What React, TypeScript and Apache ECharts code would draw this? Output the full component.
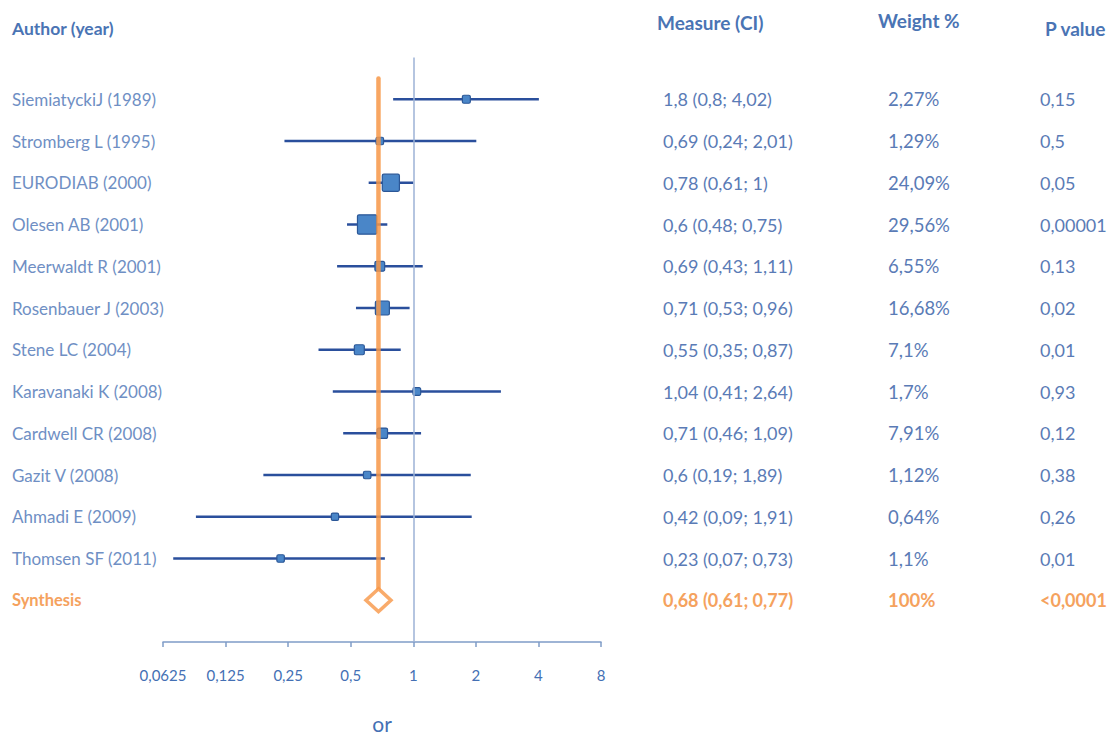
import React, { useEffect, useRef } from "react";
import * as echarts from "echarts";

const authors = [
  "SiemiatyckiJ (1989)",
  "Stromberg L (1995)",
  "EURODIAB (2000)",
  "Olesen AB (2001)",
  "Meerwaldt R (2001)",
  "Rosenbauer J (2003)",
  "Stene LC (2004)",
  "Karavanaki K (2008)",
  "Cardwell CR (2008)",
  "Gazit V (2008)",
  "Ahmadi E (2009)",
  "Thomsen SF (2011)",
];
const estimates = [1.8, 0.69, 0.78, 0.6, 0.69, 0.71, 0.55, 1.04, 0.71, 0.6, 0.42, 0.23];
const lows = [0.8, 0.24, 0.61, 0.48, 0.43, 0.53, 0.35, 0.41, 0.46, 0.19, 0.09, 0.07];
const highs = [4.02, 2.01, 1, 0.75, 1.11, 0.96, 0.87, 2.64, 1.09, 1.89, 1.91, 0.73];
const weights = [2.27, 1.29, 24.09, 29.56, 6.55, 16.68, 7.1, 1.7, 7.91, 1.12, 0.64, 1.1];
const pValues = ["0,15", "0,5", "0,05", "0,00001", "0,13", "0,02", "0,01", "0,93", "0,12", "0,38", "0,26", "0,01"];

const synthesisLabel = "Synthesis";
const synthesisEstimate = 0.68;
const synthesisLow = 0.61;
const synthesisHigh = 0.77;
const synthesisWeight = 100;
const synthesisP = "<0,0001";

const xTicks = [0.0625, 0.125, 0.25, 0.5, 1, 2, 4, 8];
const headers = { author: "Author (year)", measure: "Measure (CI)", weight: "Weight %", p: "P value" };
const axisName = "or";

const ORANGE = "#F79646";
const ORANGE_TEXT = "#F5A25E";
const HEAD = "#4A74B4";
const ROWTXT = "#6F8FC4";
const NUMTXT = "#5A7BB6";
const FONT = "Lato, 'Open Sans', sans-serif";

const fmt = (v: number) => String(v).replace(".", ",");

export default function App() {
  const ref = useRef<HTMLDivElement>(null);
  useEffect(() => {
    document.body.style.margin = "0";
    if (!ref.current) return;
    const chart = echarts.init(ref.current, undefined, { renderer: "svg" });

    const n = authors.length;
    const rowIdx = authors.map((_, i) => i);
    const synthRow = n;

    const pad = (arr: any[]) => ["", ...arr, ""];
    const orangeItem = (v: string, size: number) => ({
      value: v,
      textStyle: { color: ORANGE_TEXT, fontWeight: "bold", align: "left", fontSize: size, fontFamily: FONT },
    });

    const authorCats = pad([...authors, orangeItem(synthesisLabel, 16.5)]);
    const measureCats = pad([
      ...authors.map((_, i) => `${fmt(estimates[i])} (${fmt(lows[i])}; ${fmt(highs[i])})`),
      orangeItem(`${fmt(synthesisEstimate)} (${fmt(synthesisLow)}; ${fmt(synthesisHigh)})`, 18),
    ]);
    const weightCats = pad([...weights.map((w) => `${fmt(w)}%`), orangeItem(`${synthesisWeight}%`, 18.5)]);
    const pCats = pad([...pValues, orangeItem(synthesisP, 18)]);

    const catAxis = (data: any[], position: string, margin: number, color: string, size: number) => ({
      type: "category",
      gridIndex: 0,
      position,
      data,
      inverse: true,
      boundaryGap: false,
      axisLine: { show: false },
      axisTick: { show: false },
      splitLine: { show: false },
      axisLabel: {
        interval: 0,
        align: "left",
        margin,
        color,
        fontSize: size,
        fontFamily: FONT,
      },
    });

    const studyData = rowIdx.map((i) => [i, estimates[i], lows[i], highs[i], weights[i]]);

    const option: any = {
      animation: false,
      backgroundColor: "#ffffff",
      grid: { left: 163, width: 438, top: 57.5, height: 584.5, containLabel: false, outerBoundsMode: "none" },
      xAxis: {
        type: "log",
        logBase: 2,
        min: xTicks[0],
        max: xTicks[xTicks.length - 1],
        splitNumber: 7,
        axisLine: { show: true, onZero: false, lineStyle: { color: "#7F9CC7", width: 1.5 } },
        axisTick: { show: true, length: 5, lineStyle: { color: "#7F9CC7", width: 1.5 } },
        splitLine: { show: false },
        axisLabel: {
          color: "#4470B4",
          fontSize: 15,
          fontFamily: FONT,
          margin: 25,
          formatter: (v: number) => fmt(v),
        },
        name: axisName,
        nameLocation: "middle",
        nameGap: 71,
        nameTextStyle: { color: "#4470B4", fontSize: 21, fontFamily: FONT, lineHeight: 21 },
      },
      yAxis: [
        {
          type: "value",
          min: -1,
          max: n + 1,
          inverse: true,
          show: false,
        },
        catAxis(authorCats, "left", 151, ROWTXT, 17),
        catAxis(measureCats, "right", 62, NUMTXT, 18),
        catAxis(weightCats, "right", 287, NUMTXT, 18.5),
        catAxis(pCats, "right", 439, NUMTXT, 18),
      ],
      graphic: [
        { type: "text", left: 12, top: 19, style: { text: headers.author, fill: HEAD, font: `bold 17.5px ${FONT}` } },
        { type: "text", left: 657, top: 13, style: { text: headers.measure, fill: HEAD, font: `bold 19px ${FONT}` } },
        { type: "text", left: 878, top: 11, style: { text: headers.weight, fill: HEAD, font: `bold 19px ${FONT}` } },
        { type: "text", left: 1045, top: 19, style: { text: headers.p, fill: HEAD, font: `bold 19px ${FONT}` } },
      ],
      series: [
        {
          type: "line",
          yAxisIndex: 0,
          data: [],
          silent: true,
          markLine: {
            silent: true,
            symbol: "none",
            label: { show: false },
            lineStyle: { color: "#9DB2D6", width: 1.5, type: "solid" },
            data: [{ xAxis: 1 }],
          },
        },
        {
          type: "custom",
          yAxisIndex: 0,
          z: 3,
          data: studyData,
          encode: { x: [1, 2, 3], y: 0 },
          renderItem: (params: any, api: any) => {
            const row = api.value(0);
            const est = api.value(1);
            const lo = api.value(2);
            const hi = api.value(3);
            const w = api.value(4);
            const pLo = api.coord([lo, row]);
            const pHi = api.coord([hi, row]);
            const pE = api.coord([est, row]);
            const s = 7 + 0.42 * w;
            return {
              type: "group",
              children: [
                {
                  type: "line",
                  shape: { x1: pLo[0], y1: pLo[1], x2: pHi[0], y2: pHi[1] },
                  style: { stroke: "#2A4F9C", lineWidth: 2.5 },
                },
                {
                  type: "rect",
                  shape: { x: pE[0] - s / 2, y: pE[1] - s / 2, width: s, height: s, r: 1.5 },
                  style: { fill: "#4A86C8", stroke: "#2B5797", lineWidth: 1.2 },
                },
              ],
            };
          },
        },
        {
          type: "line",
          yAxisIndex: 0,
          z: 4,
          symbol: "none",
          silent: true,
          lineStyle: { color: ORANGE, width: 4.5, opacity: 0.85, cap: "round" },
          data: [
            [synthesisEstimate, -0.5],
            [synthesisEstimate, synthRow - 0.27],
          ],
        },
        {
          type: "scatter",
          yAxisIndex: 0,
          z: 5,
          symbol: "diamond",
          symbolSize: [25, 23],
          itemStyle: { color: "#ffffff", borderColor: ORANGE, borderWidth: 3.5 },
          data: [[synthesisEstimate, synthRow]],
        },
      ],
    };

    chart.setOption(option);
    return () => chart.dispose();
  }, []);

  return <div ref={ref} style={{ width: 1110, height: 737 }} />;
}
